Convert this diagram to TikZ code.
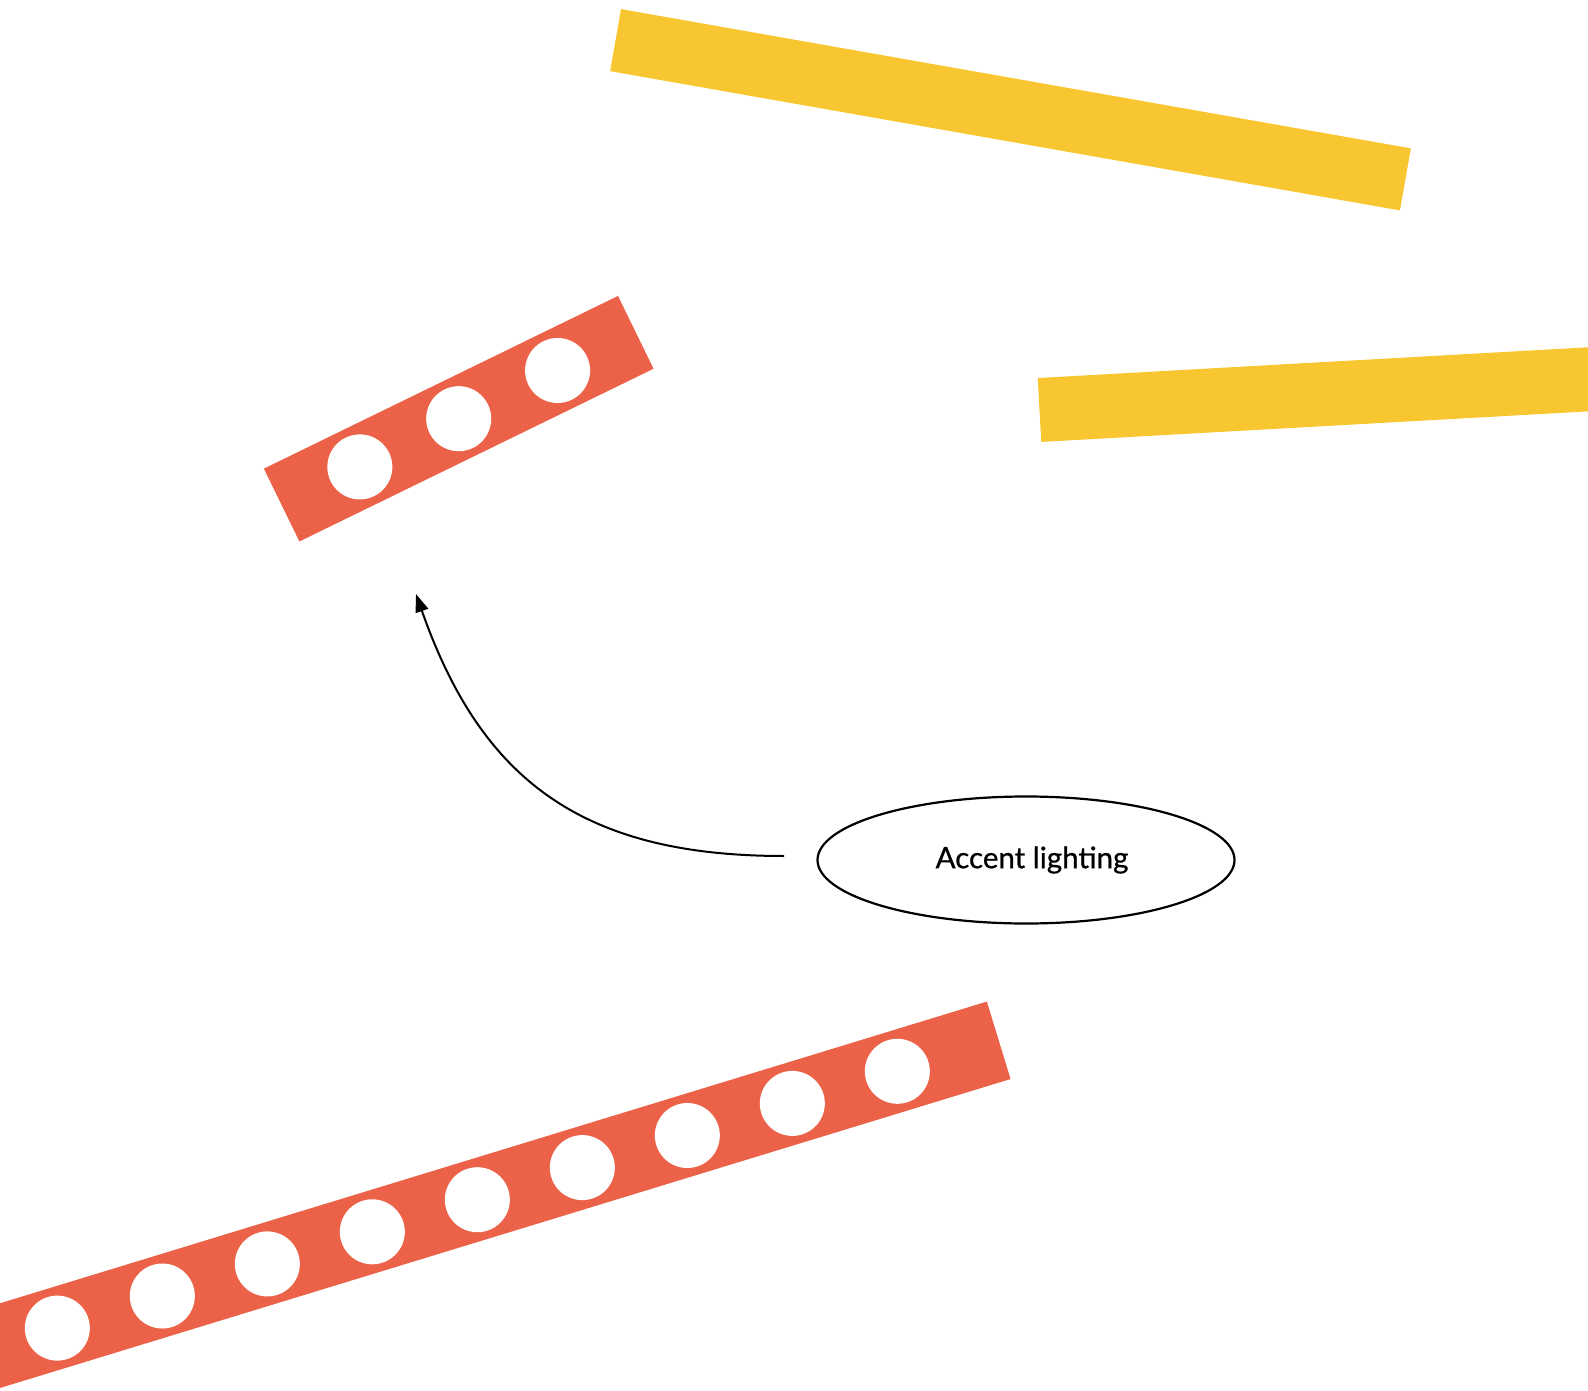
\documentclass[tikz,border=0pt]{standalone}
\usepackage{fontspec}
\setmainfont{Lato}
\newfontfamily\labelfont[FakeBold=0.7]{Lato}
\usetikzlibrary{shapes.geometric,arrows.meta}
\definecolor{barred}{HTML}{EC6248}
\definecolor{baryellow}{HTML}{F8C631}
\begin{document}
\begin{tikzpicture}[x=1pt,y=-1pt,
  redbar/.style={fill=barred,draw=none},
  yellowbar/.style={fill=baryellow,draw=none},
  hole/.style={fill=white,draw=none},
  labelellipse/.style={ellipse,draw=black,line width=2.2pt,minimum width=417pt,minimum height=127pt,inner sep=0pt,font=\labelfont\fontsize{29.5}{35}\selectfont},
  connector/.style={draw=black,line width=2pt,-{Triangle[length=18pt,width=13pt]}}
]
\useasboundingbox (0,0) rectangle (1588,1391);
\clip (0,0) rectangle (1588,1391);

% top yellow bar
\begin{scope}[shift={(1010.5,109.75)},rotate=-10]
  \fill[yellowbar] (-401,-31.5) rectangle (401,31.5);
\end{scope}

% right yellow bar
\begin{scope}[shift={(1039.5,410)},rotate=3.2]
  \fill[yellowbar] (0,-32) rectangle (700,32);
\end{scope}

% small red bar with three holes
\begin{scope}[shift={(458.7,418.7)},rotate=26]
  \fill[redbar] (-197,-40.5) rectangle (197,40.5);
  \foreach \k in {-1,0,1}
    \fill[hole] (\k*110,0) circle[radius=32.5];
\end{scope}

% bottom red bar with nine holes
\begin{scope}[shift={(998.7,1040.3)},rotate=17]
  \fill[redbar] (-1300,-40.5) rectangle (0,40.5);
  \foreach \k in {0,...,8}
    \fill[hole] (-106-\k*109.8,0) circle[radius=32.5];
\end{scope}

% label and connector
\node[labelellipse] (accent) at (1026,860) {\hspace*{12pt}Accent lighting};
\coordinate (arrowstart) at (784,856);
\coordinate (arrowtip) at (416,594);
\draw[connector] (arrowstart) .. controls (584,856) and (482,782) .. (arrowtip);
\end{tikzpicture}
\end{document}
